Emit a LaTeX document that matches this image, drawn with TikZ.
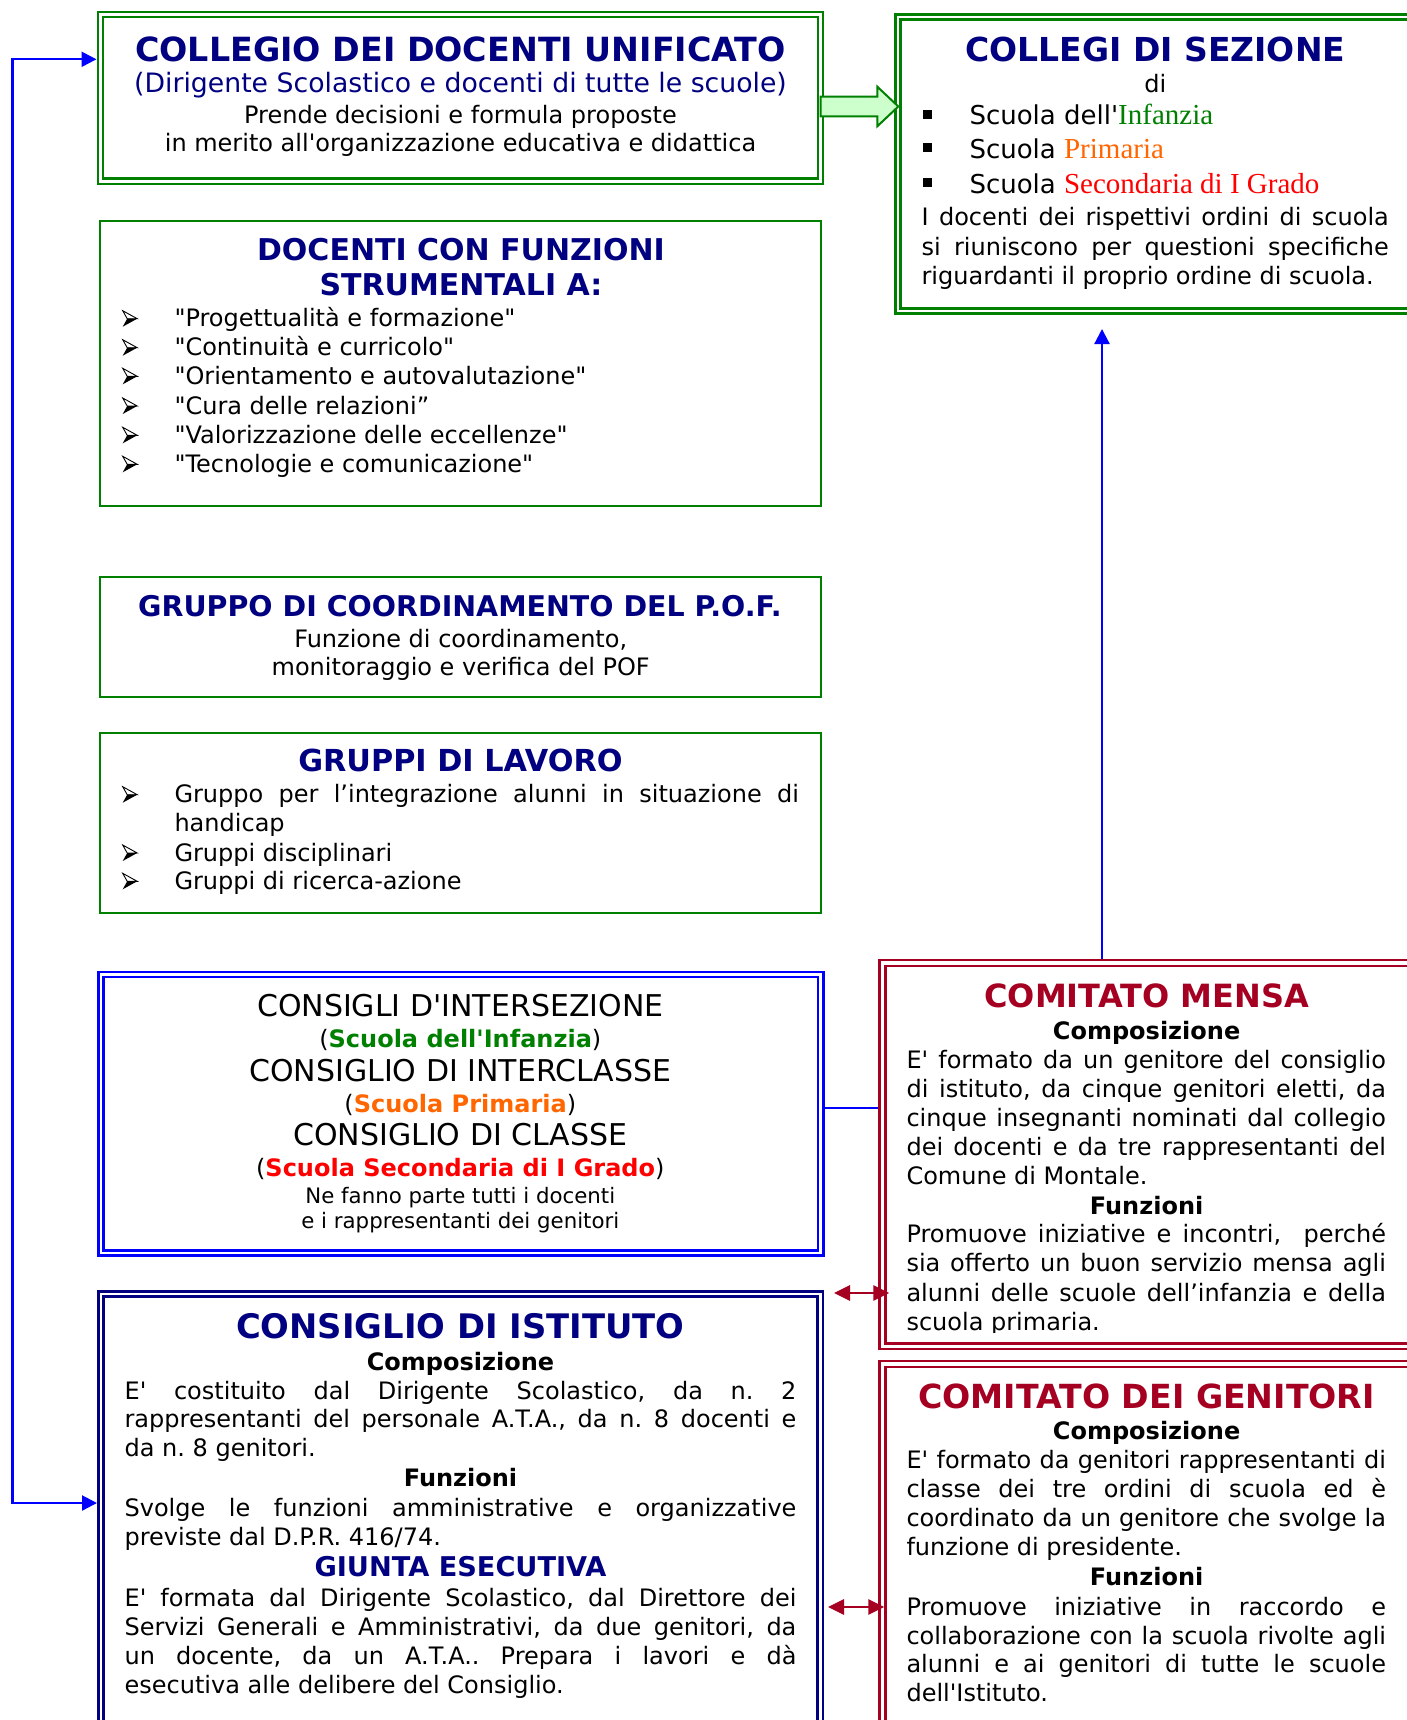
\documentclass[tikz,border=0pt]{standalone}
\usepackage{fontspec}
\setmainfont{DejaVu Sans}
\newfontfamily\dv{DejaVu Sans}
\newfontfamily\tnr{Liberation Serif}
\usetikzlibrary{arrows.meta}
\definecolor{navyT}{RGB}{0,0,128}
\definecolor{gbord}{RGB}{0,128,0}
\definecolor{bblue}{RGB}{0,0,255}
\definecolor{crim}{RGB}{165,0,33}
\definecolor{orangeT}{RGB}{255,102,0}
\definecolor{redT}{RGB}{255,0,0}
\definecolor{greenT}{RGB}{0,128,0}
\definecolor{lgreen}{RGB}{204,255,204}
\newcommand\fs[1]{\fontsize{#1pt}{#1pt}\selectfont}
\newcommand\fd[1]{\frenchspacing\dv\fs{#1}}
\newcommand\TxC[4][]{\node[lc,#1] (#2) at (#3) {#4};}
\newcommand\TxW[4][]{\node[lw,#1] (#2) at (#3) {#4};}
\newcommand\TxJ[5][]{\node[lw,#1] (#2) at (#3) {\makebox[#4pt][s]{#5}};}
\AtBeginDocument{\frenchspacing}
\begin{document}
\begin{tikzpicture}[x=1pt,y=-1pt,
  lc/.style={anchor=base,inner sep=0pt,outer sep=0pt,font=\fd{24}},
  lw/.style={anchor=base west,inner sep=0pt,outer sep=0pt,font=\fd{24}},
  ttl/.style={font=\bfseries\fd{#1},text=navyT},
  ttr/.style={font=\bfseries\fd{#1},text=crim},
  hd/.style={font=\bfseries\fd{24}},
  gdbl/.style={draw=gbord,double=white,line width=2.5pt,double distance=2.6pt,outer sep=3.8pt,inner sep=0pt,fill=white},
  gsgl/.style={draw=gbord,line width=2pt,outer sep=1pt,inner sep=0pt,fill=white},
  bdbl/.style={draw=bblue,double=white,line width=2.5pt,double distance=2.6pt,outer sep=3.8pt,inner sep=0pt,fill=white},
  ndbl/.style={draw=navyT,double=white,line width=2.5pt,double distance=2.6pt,outer sep=3.8pt,inner sep=0pt,fill=white},
  cdbl/.style={draw=crim,double=white,line width=2.4pt,double distance=3.4pt,outer sep=4.1pt,inner sep=0pt,fill=white},
  conn/.style={draw=bblue,line width=2.2pt},
  btip/.tip={Triangle[length=15pt,width=15pt]},
  rtip/.tip={Triangle[length=16pt,width=15pt]},
  redarr/.style={draw=crim,fill=crim,line width=2.8pt},
  blockarr/.style={draw=gbord,fill=lgreen,line width=2pt,line join=miter},
  abul/.pic={
    \draw[line width=0.9pt,line join=miter] (0,-16) -- (14.5,-8) -- (4.5,-8) -- cycle;
    \fill (4.5,-8) -- (14.5,-8) -- (0,0) -- cycle;
  }
]
\fill[white] (0,0) rectangle (1406,1720);
\useasboundingbox (0,0) rectangle (1406,1720);

% ---------------- boxes ----------------
\node[gdbl,minimum width=720.2pt,minimum height=166.8pt] (b1) at (460.4,97.9) {};
\node[gdbl,minimum width=532.2pt,minimum height=293.8pt] (b2) at (1163.9,164) {};
\node[gsgl,minimum width=721pt,minimum height=284.8pt] (b3) at (460,363.1) {};
\node[gsgl,minimum width=721pt,minimum height=120pt] (b4) at (460,636.5) {};
\node[gsgl,minimum width=721pt,minimum height=180pt] (b5) at (460,823) {};
\node[bdbl,minimum width=719.9pt,minimum height=278.4pt] (b6) at (460.75,1113.7) {};
\node[ndbl,minimum width=719.4pt,minimum height=456.2pt] (b7) at (460.5,1521.9) {};
\node[cdbl,minimum width=547.6pt,minimum height=383.4pt] (b8) at (1156.2,1154.5) {};
\node[cdbl,minimum width=547.6pt,minimum height=386.2pt] (b9) at (1156.2,1556.9) {};

% ---------------- connectors ----------------
\draw[blockarr] (820.7,96.7) -- (877.3,96.7) -- (877.3,86.7) -- (898.3,106.5)
  -- (877.3,126.3) -- (877.3,116.3) -- (820.7,116.3) -- cycle;
\coordinate (lt) at (12.5,59.3);
\coordinate (lb) at (12.5,1503);
\draw[conn,btip-btip] (b1.west |- lt) -- (lt) -- (lb) -- (b7.west |- lb);
\coordinate (vt) at (1102,329);
\draw[conn,-btip] (b8.north -| vt) -- (vt);
\coordinate (hc) at (850,1107.7);
\draw[conn] (b6.east |- hc) -- (b8.west |- hc);
\coordinate (r1) at (850,1293);
\coordinate (r2) at (850,1607);
\draw[redarr,rtip-rtip] ([xshift=10pt]b7.east |- r1) -- ([xshift=11pt]b8.west |- r1);
\draw[redarr,rtip-rtip] ([xshift=4pt]b7.east |- r2) -- ([xshift=6pt]b9.west |- r2);

% ---------------- box 1 ----------------
\TxC[ttl=33.3]{a1}{460.5,61.7}{COLLEGIO DEI DOCENTI UNIFICATO}
\TxC[font=\fd{26.7},text=navyT]{a2}{460.5,93}{(Dirigente Scolastico e docenti di tutte le scuole)}
\TxC{a3}{460.5,124}{Prende decisioni e formula proposte}
\TxC{a4}{460.5,151.7}{in merito all'organizzazione educativa e didattica}

% ---------------- box 2 ----------------
\TxC[ttl=33]{s0}{1155.4,61.7}{COLLEGI DI SEZIONE}
\TxC{s1}{1155.3,92.3}{di}
\fill (923,110) rectangle (932,119);
\fill (923,143.3) rectangle (932,152.3);
\fill (923,178.3) rectangle (932,187.3);
\TxW[font=\fd{26}]{s2}{969.5,125}{Scuola dell'{\tnr\fs{29}\color{greenT}Infanzia}}
\TxW[font=\fd{26}]{s3}{969.5,158.3}{Scuola {\tnr\fs{29}\color{orangeT}Primaria}}
\TxW[font=\fd{26}]{s4}{969.5,193.3}{Scuola {\tnr\fs{29}\color{redT}Secondaria di I Grado}}
\TxJ{s5}{921.6,225.7}{467.2}{I docenti dei rispettivi ordini di scuola}
\TxJ{s6}{921.6,255}{467.2}{si riuniscono per questioni specifiche}
\TxW{s7}{921.6,284}{riguardanti il proprio ordine di scuola.}

% ---------------- box 3 ----------------
\TxC[ttl=30]{d1}{461,260.7}{DOCENTI CON FUNZIONI}
\TxC[ttl=30]{d2}{461,295.7}{STRUMENTALI A:}
\foreach \yy in {326.7,355.7,384.3,414,443.3,472.3} \pic at (122.7,\yy) {abul};
\TxW{d3}{174.5,326.7}{"Progettualità e formazione"}
\TxW{d4}{174.5,355.7}{"Continuità e curricolo"}
\TxW{d5}{174.5,384.3}{"Orientamento e autovalutazione"}
\TxW{d6}{174.5,414}{"Cura delle relazioni”}
\TxW{d7}{174.5,443.3}{"Valorizzazione delle eccellenze"}
\TxW{d8}{174.5,472.3}{"Tecnologie e comunicazione"}

% ---------------- box 4 ----------------
\TxC[ttl=28.5]{p1}{460,616.7}{GRUPPO DI COORDINAMENTO DEL P.O.F.}
\TxC{p2}{460.7,647.3}{Funzione di coordinamento,}
\TxC{p3}{460.7,675}{monitoraggio e verifica del POF}

% ---------------- box 5 ----------------
\TxC[ttl=30.3]{g1}{460.5,771.7}{GRUPPI DI LAVORO}
\foreach \yy in {802.7,861,889.3} \pic at (122.7,\yy) {abul};
\TxJ{g2}{174.5,802.7}{624.4}{Gruppo per l’integrazione alunni in situazione di}
\TxW{g3}{174.5,831.7}{handicap}
\TxW{g4}{174.5,861}{Gruppi disciplinari}
\TxW{g5}{174.5,889.3}{Gruppi di ricerca-azione}

% ---------------- box 6 ----------------
\TxC[font=\fd{30}]{e1}{460.3,1016.7}{CONSIGLI D'INTERSEZIONE}
\TxC{e2}{460.3,1047.3}{({\bfseries\color{greenT}Scuola dell'Infanzia})}
\TxC[font=\fd{30}]{e3}{460.3,1081}{CONSIGLIO DI INTERCLASSE}
\TxC{e4}{460.3,1112.7}{({\bfseries\color{orangeT}Scuola Primaria})}
\TxC[font=\fd{30}]{e5}{460.3,1145}{CONSIGLIO DI CLASSE}
\TxC{e6}{460.3,1176.7}{({\bfseries\color{redT}Scuola Secondaria di I Grado})}
\TxC[font=\fd{21.3}]{e7}{460.3,1203.3}{Ne fanno parte tutti i docenti}
\TxC[font=\fd{21.3}]{e8}{460.3,1228.3}{e i rappresentanti dei genitori}

% ---------------- box 7 ----------------
\TxC[ttl=33.8]{i1}{460.3,1338.3}{CONSIGLIO DI ISTITUTO}
\TxC[hd]{i2}{460.5,1370.7}{Composizione}
\TxJ{i3}{124.6,1399}{671.8}{E' costituito dal Dirigente Scolastico, da n. 2}
\TxJ{i4}{124.6,1427.7}{671.8}{rappresentanti del personale A.T.A., da n. 8 docenti e}
\TxW{i5}{124.6,1456.7}{da n. 8 genitori.}
\TxC[hd]{i6}{460.5,1486}{Funzioni}
\TxJ{i7}{124.6,1516.7}{671.8}{Svolge le funzioni amministrative e organizzative}
\TxW{i8}{124.6,1545}{previste dal D.P.R. 416/74.}
\TxC[ttl=27.2]{i9}{460.5,1576}{GIUNTA ESECUTIVA}
\TxJ{i10}{124.6,1606.7}{671.8}{E' formata dal Dirigente Scolastico, dal Direttore dei}
\TxJ{i11}{124.6,1635.7}{671.8}{Servizi Generali e Amministrativi, da due genitori, da}
\TxJ{i12}{124.6,1664.3}{671.8}{un docente, da un A.T.A.. Prepara i lavori e dà}
\TxW{i13}{124.6,1693.3}{esecutiva alle delibere del Consiglio.}

% ---------------- box 8 ----------------
\TxC[ttr=32]{m1}{1146.6,1007.7}{COMITATO MENSA}
\TxC[hd]{m2}{1146.6,1039}{Composizione}
\TxJ{m3}{906.5,1068.3}{479.5}{E' formato da un genitore del consiglio}
\TxJ{m4}{906.5,1097.3}{479.5}{di istituto, da cinque genitori eletti, da}
\TxJ{m5}{906.5,1126}{479.5}{cinque insegnanti nominati dal collegio}
\TxJ{m6}{906.5,1155}{479.5}{dei docenti e da tre rappresentanti del}
\TxW{m7}{906.5,1184.3}{Comune di Montale.}
\TxC[hd]{m8}{1146.6,1214}{Funzioni}
\TxJ{m9}{906.5,1242.7}{479.5}{Promuove iniziative e incontri,\ \ perché}
\TxJ{m10}{906.5,1271.7}{479.5}{sia offerto un buon servizio mensa agli}
\TxJ{m11}{906.5,1301}{479.5}{alunni delle scuole dell’infanzia e della}
\begin{scope}
\clip (890,1305) rectangle (1400,1332);
\TxW{m12}{906.5,1330}{scuola primaria.}
\end{scope}

% ---------------- box 9 ----------------
\TxC[ttr=33.2]{n1}{1146.6,1408.3}{COMITATO DEI GENITORI}
\TxC[hd]{n2}{1146.6,1439.3}{Composizione}
\TxJ{n3}{906.5,1468.3}{479.5}{E' formato da genitori rappresentanti di}
\TxJ{n4}{906.5,1497.7}{479.5}{classe dei tre ordini di scuola ed è}
\TxJ{n5}{906.5,1526.7}{479.5}{coordinato da un genitore che svolge la}
\TxW{n6}{906.5,1555.7}{funzione di presidente.}
\TxC[hd]{n7}{1146.6,1585}{Funzioni}
\TxJ{n8}{906.5,1615}{479.5}{Promuove iniziative in raccordo e}
\TxJ{n9}{906.5,1644}{479.5}{collaborazione con la scuola rivolte agli}
\TxJ{n10}{906.5,1672.7}{479.5}{alunni e ai genitori di tutte le scuole}
\TxW{n11}{906.5,1701.7}{dell'Istituto.}
\end{tikzpicture}
\end{document}
